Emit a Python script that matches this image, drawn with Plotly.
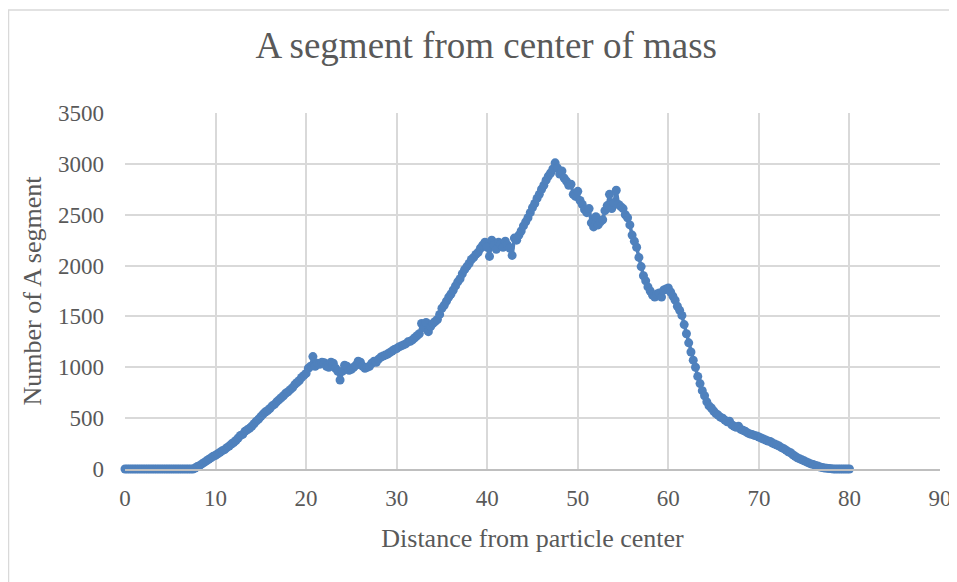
"""A segment count vs distance from the particle's center of mass (Excel-style scatter)."""

from __future__ import annotations

import plotly.graph_objects as go

SERIES_COLOR = "#4F81BD"
GRID_COLOR = "#D9D9D9"
TEXT_COLOR = "#595959"
FONT = "Liberation Serif, Times New Roman, serif"

# the page body adds an 8px margin, so the figure is 8px smaller than the window
FIG_W, FIG_H = 949, 574

# distance from particle center, 0 .. 80 in steps of 0.25
distance = [i * 0.25 for i in range(321)]

# number of A segments, one row per unit of distance
# (values at d, d+0.25, d+0.5, d+0.75)
a_segment = [
    0, 0, 0, 0,             # 0
    0, 0, 0, 0,             # 1
    0, 0, 0, 0,             # 2
    0, 0, 0, 0,             # 3
    0, 0, 0, 0,             # 4
    0, 0, 0, 0,             # 5
    0, 0, 0, 0,             # 6
    0, 0, 0, 10,            # 7
    25, 35, 50, 65,         # 8
    80, 95, 110, 125,       # 9
    135, 150, 165, 180,     # 10
    190, 210, 225, 245,     # 11
    260, 280, 305, 330,     # 12
    340, 370, 385, 400,     # 13
    420, 445, 470, 490,     # 14
    515, 540, 560, 575,     # 15
    595, 620, 635, 660,     # 16
    680, 700, 720, 745,     # 17
    760, 780, 800, 830,     # 18
    850, 870, 900, 920,     # 19
    940, 990, 1010, 1105,   # 20
    1010, 1040, 1030, 1050,  # 21
    1045, 1010, 1000, 1050,  # 22
    1040, 990, 960, 875,    # 23
    960, 1020, 1010, 970,   # 24
    980, 1000, 1020, 1060,  # 25
    1050, 1010, 990, 1000,  # 26
    1010, 1040, 1060, 1050,  # 27
    1080, 1100, 1110, 1120,  # 28
    1130, 1145, 1160, 1175,  # 29
    1185, 1200, 1210, 1220,  # 30
    1230, 1250, 1255, 1270,  # 31
    1290, 1310, 1330, 1430,  # 32
    1390, 1440, 1350, 1400,  # 33
    1430, 1450, 1470, 1520,  # 34
    1580, 1610, 1650, 1690,  # 35
    1720, 1760, 1800, 1840,  # 36
    1870, 1920, 1960, 1990,  # 37
    2020, 2060, 2080, 2110,  # 38
    2130, 2170, 2200, 2230,  # 39
    2180, 2090, 2250, 2200,  # 40
    2160, 2230, 2210, 2180,  # 41
    2240, 2200, 2170, 2100,  # 42
    2270, 2250, 2300, 2340,  # 43
    2390, 2430, 2470, 2520,  # 44
    2570, 2610, 2660, 2700,  # 45
    2750, 2790, 2840, 2880,  # 46
    2910, 2950, 3010, 2960,  # 47
    2900, 2930, 2860, 2830,  # 48
    2790, 2800, 2700, 2680,  # 49
    2730, 2640, 2600, 2550,  # 50
    2520, 2560, 2420, 2380,  # 51
    2480, 2400, 2430, 2450,  # 52
    2540, 2590, 2700, 2560,  # 53
    2620, 2740, 2600, 2580,  # 54
    2560, 2500, 2470, 2400,  # 55
    2300, 2240, 2180, 2080,  # 56
    1990, 1900, 1850, 1790,  # 57
    1750, 1710, 1690, 1720,  # 58
    1730, 1690, 1760, 1770,  # 59
    1780, 1740, 1700, 1660,  # 60
    1600, 1560, 1510, 1420,  # 61
    1330, 1240, 1150, 1070,  # 62
    1000, 910, 840, 770,    # 63
    720, 660, 620, 600,     # 64
    570, 545, 530, 510,     # 65
    500, 480, 465, 470,     # 66
    435, 420, 410, 420,     # 67
    390, 380, 370, 355,     # 68
    345, 340, 330, 325,     # 69
    315, 305, 295, 285,     # 70
    275, 270, 255, 245,     # 71
    235, 225, 210, 200,     # 72
    185, 170, 160, 140,     # 73
    125, 110, 100, 90,      # 74
    80, 70, 60, 50,         # 75
    45, 35, 30, 20,         # 76
    15, 10, 8, 5,           # 77
    3, 0, 0, 0,             # 78
    0, 0, 0, 0,             # 79
    0,                      # 80
]

x_ticks = list(range(0, 91, 10))
y_ticks = list(range(0, 3501, 500))


def segment_profile(x: list[float], y: list[float]) -> go.Figure:
    fig = go.Figure(go.Scatter(
        x=x, y=y, mode="lines+markers", cliponaxis=False,
        line=dict(color=SERIES_COLOR, width=3.5),
        marker=dict(color=SERIES_COLOR, size=9),
        showlegend=False,
    ))

    axis_common = dict(
        showgrid=True, gridcolor=GRID_COLOR, gridwidth=1.5,
        zeroline=False, ticks="", automargin=False,
        tickfont=dict(family=FONT, size=23, color=TEXT_COLOR),
        title_font=dict(family=FONT, size=26, color=TEXT_COLOR),
    )
    fig.update_xaxes(
        range=[0, 90], tickvals=x_ticks, ticklabelstandoff=8,
        showline=True, linecolor="#BFBFBF", linewidth=1.5, mirror=False,
        title=dict(text="Distance from particle center", standoff=18),
        **axis_common,
    )
    fig.update_yaxes(
        range=[0, 3500], tickvals=y_ticks, ticklabelstandoff=20,
        showline=False,
        title=dict(text="Number of A segment", standoff=8),
        **axis_common,
    )

    # thin outer chart border (left and top visible in the frame)
    plot_w, plot_h = FIG_W - 117 - 17, FIG_H - 105 - 113
    fig.add_shape(
        type="rect", xref="paper", yref="paper",
        x0=-116.5 / plot_w, x1=1 + 30 / plot_w,
        y0=-130 / plot_h, y1=1 + 103 / plot_h,
        line=dict(color=GRID_COLOR, width=1.5), layer="below",
    )

    fig.update_layout(
        width=FIG_W, height=FIG_H,
        title=dict(
            text="A segment from center of mass",
            font=dict(family=FONT, size=37, color=TEXT_COLOR),
            x=0.504, xanchor="center", y=1 - 37 / FIG_H, yanchor="middle",
            automargin=False,
        ),
        plot_bgcolor="white", paper_bgcolor="white",
        margin=dict(l=117, r=17, t=105, b=113),
    )
    return fig


fig = segment_profile(distance, a_segment)
fig.write_html("out.html")
